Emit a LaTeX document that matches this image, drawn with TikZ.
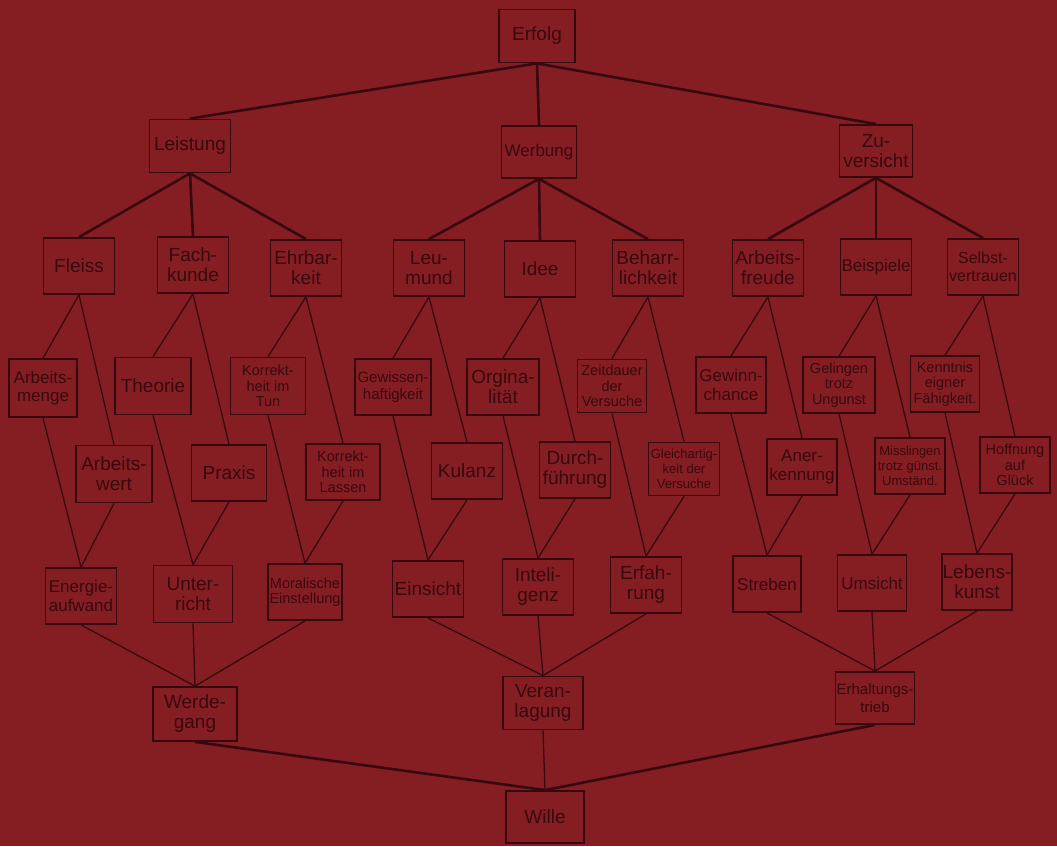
\documentclass[tikz,border=0pt]{standalone}
\usepackage{fontspec}
\setmainfont{Liberation Sans}
\usepackage{tikz}
\usetikzlibrary{calc}
\definecolor{bgred}{RGB}{133, 30, 35}
\definecolor{ink}{RGB}{56, 9, 12}

\tikzset{
  kasten/.style={draw=ink, line width=1.8pt, text=ink, minimum width=71pt,
    minimum height=56pt, inner sep=1pt, align=center,
    font=\fontsize{19}{20}\selectfont},
  mittel/.style={font=\fontsize{17}{18.5}\selectfont},
  klein/.style={font=\fontsize{14.5}{15.5}\selectfont},
  winzig/.style={font=\fontsize{13}{15}\selectfont},
  ast/.style={draw=ink, line width=2.6pt},
  zweig/.style={draw=ink, line width=1.3pt}
}

\begin{document}
\begin{tikzpicture}[x=1pt,y=-1pt]
  \fill[bgred] (0,0) rectangle (1057,846);
  \useasboundingbox (0,0) rectangle (1057,846);

  % Top
  \node[kasten, minimum width=76pt, minimum height=53pt] (erfolg) at (537,36) {Erfolg};
  \node[kasten, minimum width=81pt, minimum height=53pt] (leistung) at (190,146) {Leistung};
  \node[kasten, mittel, minimum width=75pt, minimum height=52pt] (werbung) at (539,152) {Werbung};
  \node[kasten, minimum width=73pt, minimum height=52pt] (zuversicht) at (876,151) {Zu-\\versicht};

  % Second row
  \node[kasten] (fleiss) at (79,266) {Fleiss};
  \node[kasten] (fachkunde) at (193,265) {Fach-\\kunde};
  \node[kasten] (ehrbarkeit) at (306,268) {Ehrbar-\\keit};
  \node[kasten] (leumund) at (429,268) {Leu-\\mund};
  \node[kasten] (idee) at (540,269) {Idee};
  \node[kasten] (beharrlichkeit) at (648,268) {Beharr-\\lichkeit};
  \node[kasten] (arbeitsfreude) at (768,268) {Arbeits-\\freude};
  \node[kasten, mittel] (beispiele) at (876,267) {Beispiele};
  \node[kasten, font=\fontsize{16}{18}\selectfont] (selbstvertrauen) at (983,267) {Selbst-\\vertrauen};

  % Third row, left branches
  \node[kasten, mittel, minimum width=68pt, minimum height=58pt] (arbeitsmenge) at (43,388) {Arbeits-\\menge};
  \node[kasten, minimum width=76pt, minimum height=57pt] (theorie) at (153,386) {Theorie};
  \node[kasten, klein, minimum width=75pt, minimum height=57pt] (korrekttun) at (268,386) {Korrekt-\\heit im\\Tun};
  \node[kasten, minimum width=76pt, font=\fontsize{15}{17.5}\selectfont] (gewissen) at (393,387) {Gewissen-\\haftigkeit};
  \node[kasten, minimum width=72pt] (originalitaet) at (503,387) {Orgina-\\lität};
  \node[kasten, klein, minimum width=69pt, minimum height=53pt] (zeitdauer) at (612,386) {Zeitdauer\\der\\Versuche};
  \node[kasten, mittel, minimum width=70pt] (gewinn) at (731,385) {Gewinn-\\chance};
  \node[kasten, klein, minimum width=72pt] (gelingen) at (839,385) {Gelingen\\trotz\\Ungunst};
  \node[kasten, klein, minimum width=69pt] (kenntnis) at (945,384) {Kenntnis\\eigner\\Fähigkeit.};

  % Third row, right branches
  \node[kasten, minimum width=76pt, minimum height=57pt] (arbeitswert) at (114,474) {Arbeits-\\wert};
  \node[kasten, minimum width=75pt] (praxis) at (229,473) {Praxis};
  \node[kasten, klein, minimum width=74pt] (korrektlassen) at (343,472) {Korrekt-\\heit im\\Lassen};
  \node[kasten] (kulanz) at (467,471) {Kulanz};
  \node[kasten] (durchfuehrung) at (575,470) {Durch-\\führung};
  \node[kasten, winzig, minimum height=53pt] (gleichartig) at (684,469) {Gleichartig-\\keit der\\Versuche};
  \node[kasten, mittel, minimum width=70pt] (anerkennung) at (802,467) {Aner-\\kennung};
  \node[kasten, winzig, minimum width=70pt] (misslingen) at (910,466) {Misslingen\\trotz günst.\\Umständ.};
  \node[kasten, klein, minimum width=70pt] (hoffnung) at (1015,465) {Hoffnung\\auf\\Glück};

  % Fourth row
  \node[kasten, mittel] (energie) at (81,596) {Energie-\\aufwand};
  \node[kasten, minimum width=79pt, minimum height=57pt] (unterricht) at (193,594) {Unter-\\richt};
  \node[kasten, klein, minimum width=74pt] (moralisch) at (305,592) {Moralische\\Einstellung};
  \node[kasten] (einsicht) at (428,589) {Einsicht};
  \node[kasten] (intelligenz) at (538,587) {Inteli-\\genz};
  \node[kasten] (erfahrung) at (646,585) {Erfah-\\rung};
  \node[kasten, mittel, minimum width=68pt] (streben) at (767,584) {Streben};
  \node[kasten, mittel, minimum width=69pt] (umsicht) at (872,583) {Umsicht};
  \node[kasten, minimum width=67pt] (lebenskunst) at (977,582) {Lebens-\\kunst};

  % Bottom
  \node[kasten, minimum width=84pt, minimum height=54pt] (werdegang) at (195,714) {Werde-\\gang};
  \node[kasten, minimum width=80pt, minimum height=53pt] (veranlagung) at (543,703) {Veran-\\lagung};
  \node[kasten, font=\fontsize{15}{17.5}\selectfont, minimum width=79pt, minimum height=52pt] (erhaltung) at (875,698) {Erhaltungs-\\trieb};
  \node[kasten, minimum width=78pt, minimum height=52pt] (wille) at (545,817) {Wille};

  % Connectors
  \foreach \a/\b in {erfolg/leistung, erfolg/werbung, erfolg/zuversicht,
      leistung/fleiss, leistung/fachkunde, leistung/ehrbarkeit,
      werbung/leumund, werbung/idee, werbung/beharrlichkeit,
      zuversicht/arbeitsfreude, zuversicht/beispiele, zuversicht/selbstvertrauen,
      werdegang/wille, erhaltung/wille}
    \draw[ast] (\a.south) -- (\b.north);
  \foreach \a/\b in {fleiss/arbeitsmenge, fleiss/arbeitswert,
      fachkunde/theorie, fachkunde/praxis,
      ehrbarkeit/korrekttun, ehrbarkeit/korrektlassen,
      leumund/gewissen, leumund/kulanz,
      idee/originalitaet, idee/durchfuehrung,
      beharrlichkeit/zeitdauer, beharrlichkeit/gleichartig,
      arbeitsfreude/gewinn, arbeitsfreude/anerkennung,
      beispiele/gelingen, beispiele/misslingen,
      selbstvertrauen/kenntnis, selbstvertrauen/hoffnung,
      arbeitsmenge/energie, arbeitswert/energie,
      theorie/unterricht, praxis/unterricht,
      korrekttun/moralisch, korrektlassen/moralisch,
      gewissen/einsicht, kulanz/einsicht,
      originalitaet/intelligenz, durchfuehrung/intelligenz,
      zeitdauer/erfahrung, gleichartig/erfahrung,
      gewinn/streben, anerkennung/streben,
      gelingen/umsicht, misslingen/umsicht,
      kenntnis/lebenskunst, hoffnung/lebenskunst,
      energie/werdegang, unterricht/werdegang, moralisch/werdegang,
      einsicht/veranlagung, intelligenz/veranlagung, erfahrung/veranlagung,
      streben/erhaltung, umsicht/erhaltung, lebenskunst/erhaltung,
      veranlagung/wille}
    \draw[zweig] (\a.south) -- (\b.north);
\end{tikzpicture}
\end{document}
